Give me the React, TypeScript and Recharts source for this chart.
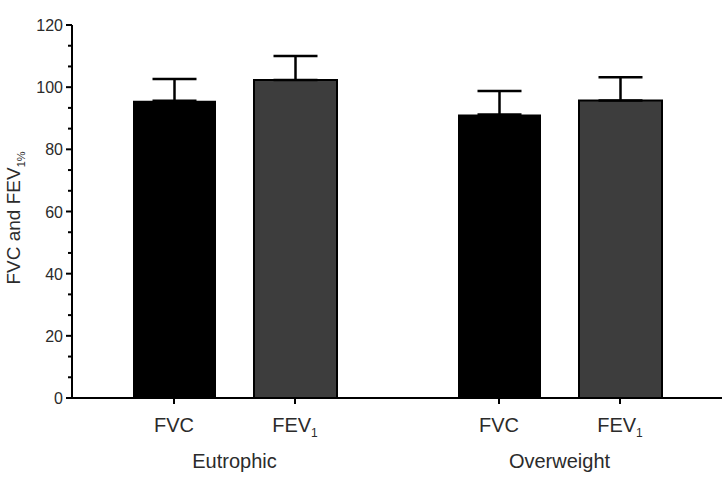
import { Bar, BarChart, ErrorBar, XAxis, YAxis } from "recharts";

const GROUPS = ["Eutrophic", "Overweight"];
const FVC_MEAN = [95.6, 91.2];
const FVC_SD = [7.0, 7.6];
const FEV1_MEAN = [102.3, 95.7];
const FEV1_SD = [7.7, 7.5];
const MAJOR_TICKS = [0, 20, 40, 60, 80, 100, 120];

const FONT = "'Liberation Sans', Arial, Helvetica, sans-serif";
const TEXT = "#2b2b2b";
const BAR_SIZE = 83;
const BAR_GAP = 38;
const SUB_OFFSET = (BAR_SIZE + BAR_GAP) / 2;

// two minor ticks between each pair of majors
const ALL_TICKS = MAJOR_TICKS.flatMap((t, i) =>
  i === MAJOR_TICKS.length - 1 ? [t] : [t, t + 20 / 3, t + 40 / 3]
);

const data = GROUPS.map((g, i) => ({
  group: g,
  fvc: FVC_MEAN[i],
  fvcErr: [0, FVC_SD[i]],
  fev1: FEV1_MEAN[i],
  fev1Err: [0, FEV1_SD[i]],
}));

function YTick(props: any) {
  const { x, y, payload } = props;
  const major = MAJOR_TICKS.includes(payload.value);
  return (
    <g>
      <line x1={x - (major ? 6 : 4)} x2={x} y1={y} y2={y} stroke="#000" strokeWidth={2} />
      {major && (
        <text x={x - 9} y={y} dy={6} textAnchor="end" fontSize={16} fill={TEXT} fontFamily={FONT}>
          {payload.value}
        </text>
      )}
    </g>
  );
}

function XTick(props: any) {
  const { x, y, payload } = props;
  const subs = [
    { dx: -SUB_OFFSET, label: "FVC", sub: "" },
    { dx: SUB_OFFSET, label: "FEV", sub: "1" },
  ];
  return (
    <g fontFamily={FONT} fill={TEXT}>
      {subs.map((s) => (
        <g key={s.label}>
          <line x1={x + s.dx} x2={x + s.dx} y1={y} y2={y + 6} stroke="#000" strokeWidth={2} />
          <text x={x + s.dx} y={y + 34} textAnchor="middle" fontSize={20}>
            {s.label}
            {s.sub && (
              <tspan fontSize={12} dy={5}>
                {s.sub}
              </tspan>
            )}
          </text>
        </g>
      ))}
      <text x={x} y={y + 70} textAnchor="middle" fontSize={20}>
        {payload.value}
      </text>
    </g>
  );
}

export default function App() {
  return (
    <div style={{ position: "absolute", left: 0, top: 0, background: "#fff" }}>
      <BarChart
        width={726}
        height={483}
        data={data}
        margin={{ top: 25, right: 4, bottom: 5, left: 0 }}
        barSize={BAR_SIZE}
        barGap={BAR_GAP}
      >
        <YAxis
          type="number"
          domain={[0, 120]}
          ticks={ALL_TICKS}
          interval={0}
          width={72}
          tickSize={0}
          tickMargin={0}
          tickLine={false}
          axisLine={{ stroke: "#000", strokeWidth: 2 }}
          tick={<YTick />}
        />
        <XAxis
          dataKey="group"
          height={80}
          tickSize={0}
          tickMargin={0}
          tickLine={false}
          axisLine={{ stroke: "#000", strokeWidth: 2 }}
          tick={<XTick />}
        />
        <text
          transform="translate(20, 218) rotate(-90)"
          textAnchor="middle"
          fontSize={19}
          fill={TEXT}
          fontFamily={FONT}
        >
          FVC and FEV
          <tspan fontSize={11} dy={5}>
            1%
          </tspan>
        </text>
        <Bar dataKey="fvc" fill="#000" isAnimationActive={false}>
          <ErrorBar dataKey="fvcErr" direction="y" width={22} stroke="#000" strokeWidth={2.5} />
        </Bar>
        <Bar dataKey="fev1" fill="#3d3d3d" stroke="#000" strokeWidth={2} isAnimationActive={false}>
          <ErrorBar dataKey="fev1Err" direction="y" width={22} stroke="#000" strokeWidth={2.5} />
        </Bar>
      </BarChart>
    </div>
  );
}
